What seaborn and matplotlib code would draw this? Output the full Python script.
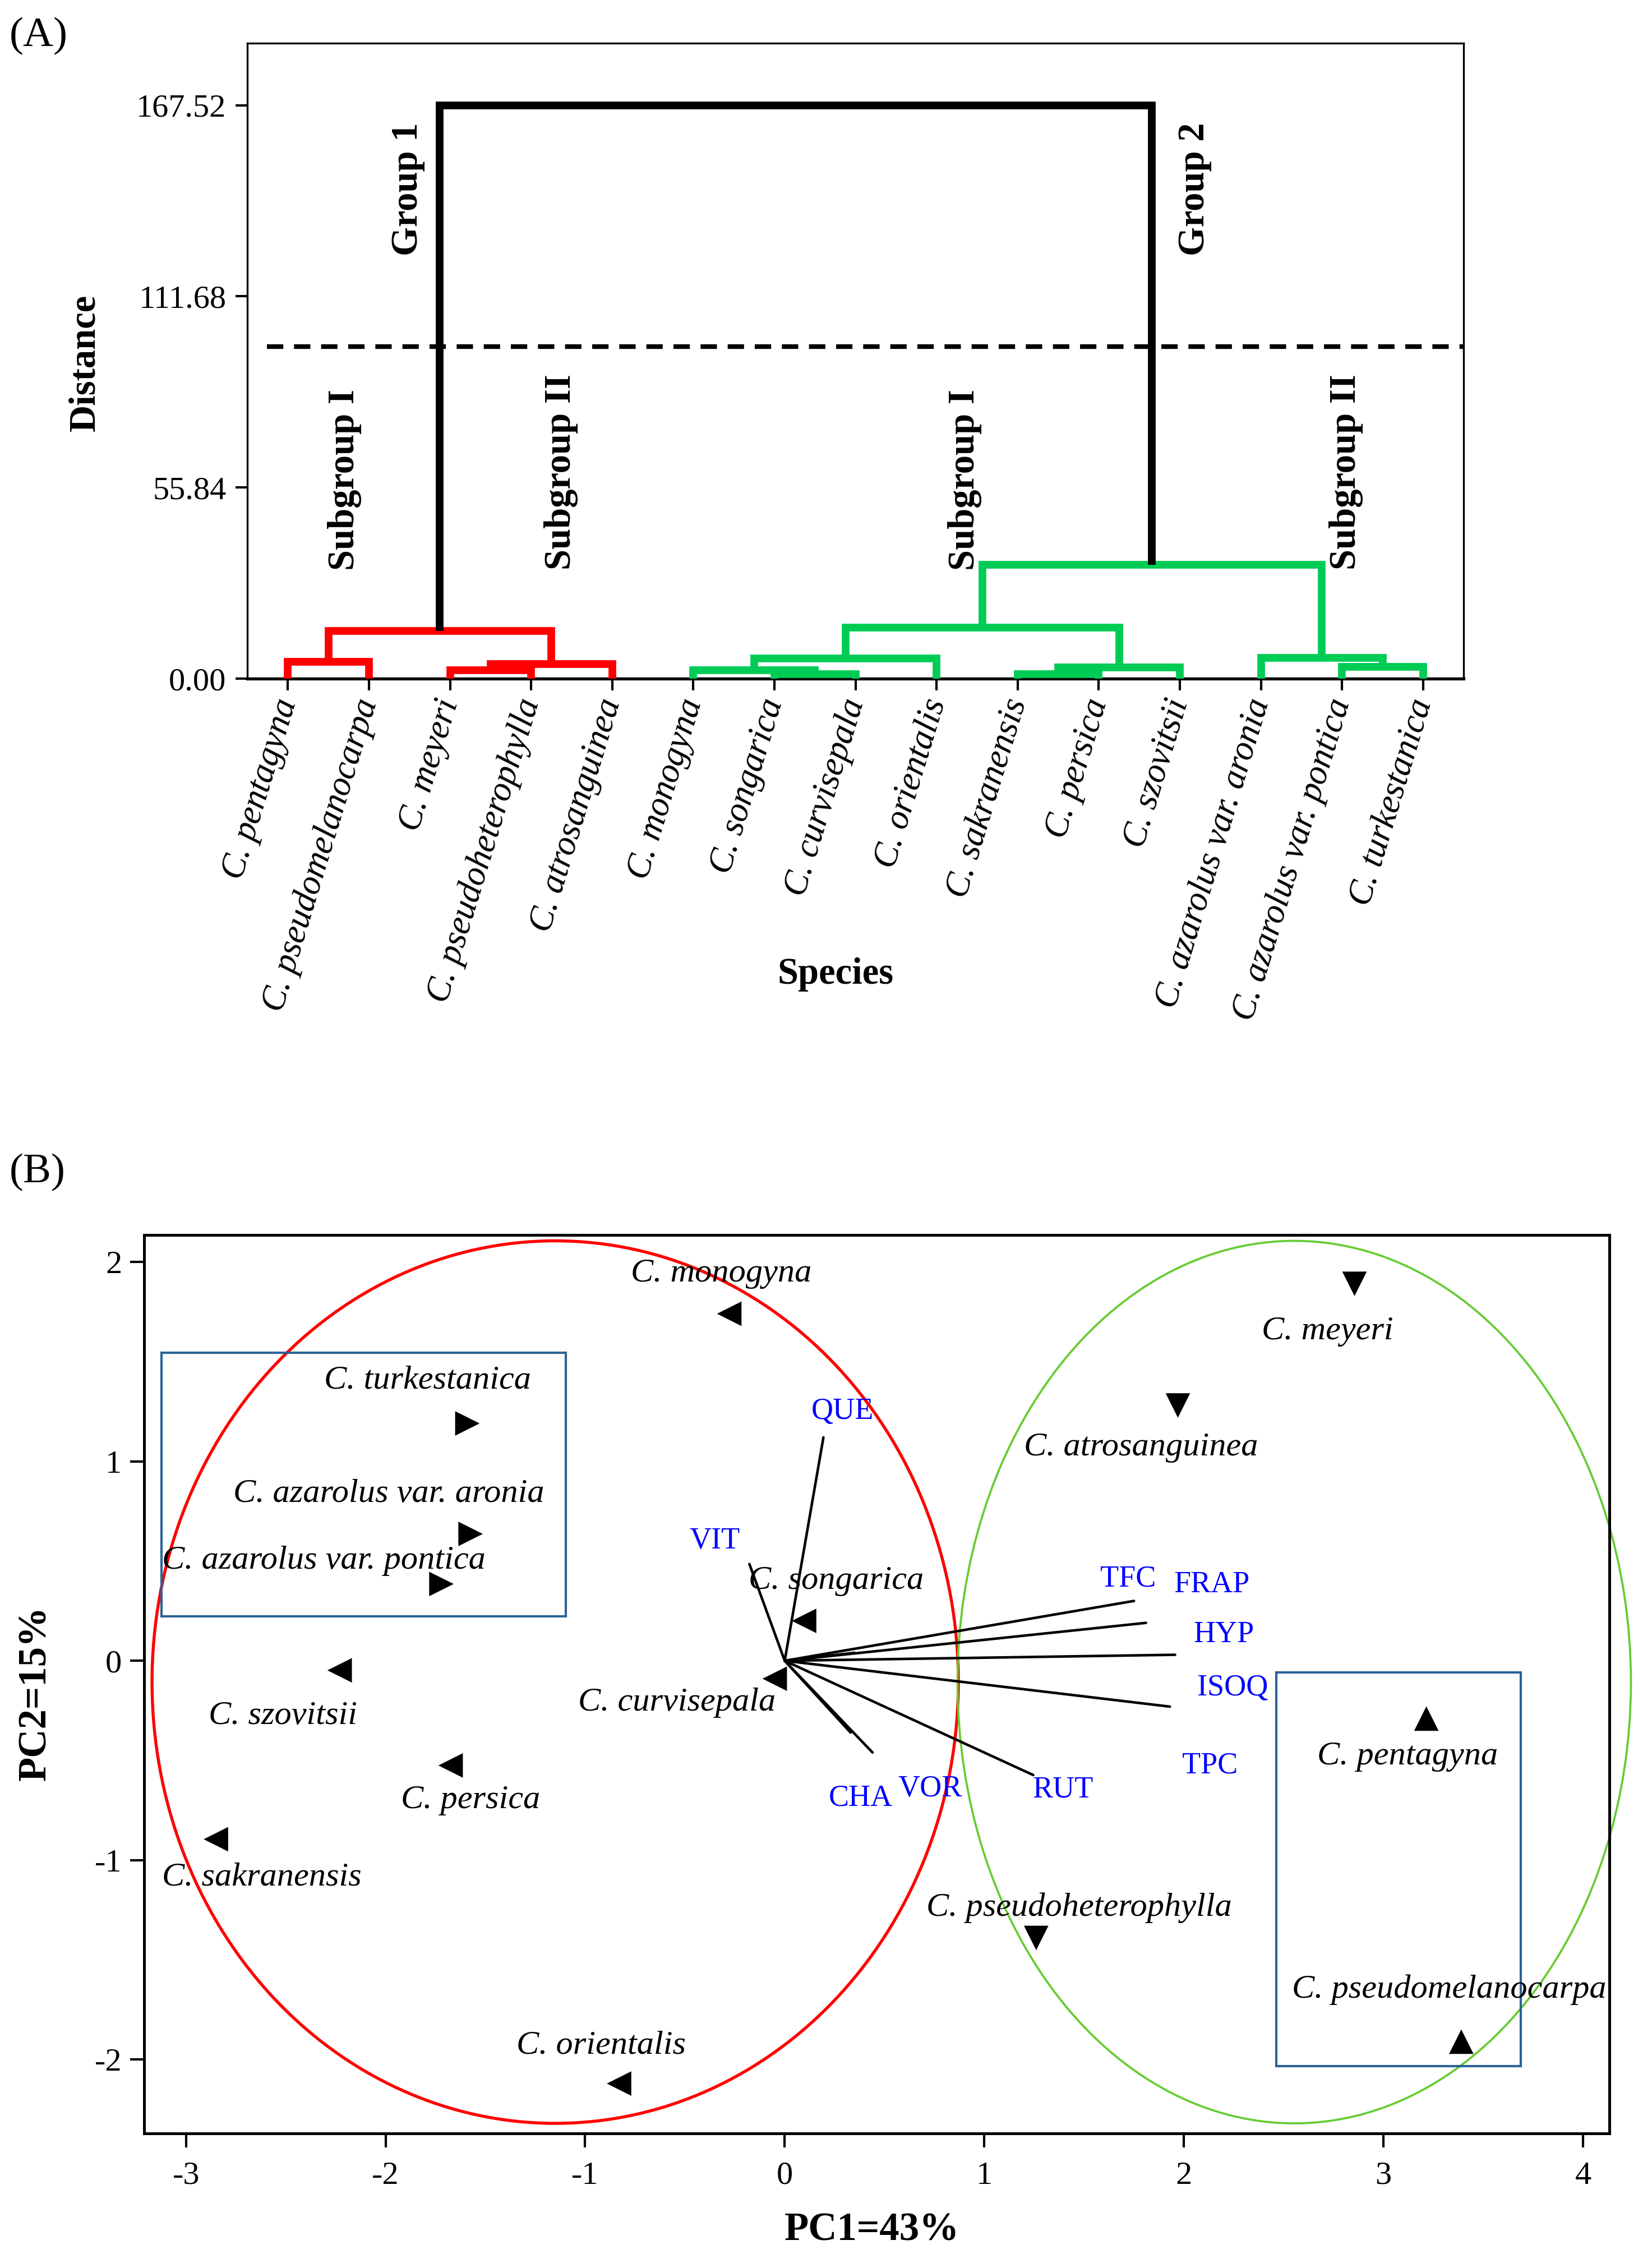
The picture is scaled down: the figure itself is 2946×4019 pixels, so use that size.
import matplotlib
matplotlib.use('Agg')
import pandas as pd
import matplotlib.pyplot as plt
from matplotlib.patches import Ellipse, Rectangle
import seaborn as sns

# ---------------- (A) dendrogram data ----------------
leaf_names = ['C. pentagyna', 'C. pseudomelanocarpa', 'C. meyeri', 'C. pseudoheterophylla',
              'C. atrosanguinea', 'C. monogyna', 'C. songarica', 'C. curvisepala',
              'C. orientalis', 'C. sakranensis', 'C. persica', 'C. szovitsii',
              'C. azarolus var. aronia', 'C. azarolus var. pontica', 'C. turkestanica']
# nodes 0-14 are the leaves, merge k makes node 15+k
merge_left = [0, 2, 16, 15, 6, 5, 20, 9, 22, 21, 13, 12, 24, 18]
merge_right = [1, 3, 4, 17, 7, 19, 8, 10, 11, 23, 14, 25, 26, 27]
merge_height = [4.9, 2.4, 4.2, 14.0, 1.3, 2.5, 5.9, 1.4, 3.3, 15.0, 3.5, 6.0, 33.3, 167.52]
merge_group = ['Group 1'] * 4 + ['Group 2'] * 9 + ['root']
dist_ticks = [0.00, 55.84, 111.68, 167.52]
cut_height = 97.0

# ---------------- (B) PCA data ----------------
pca_species = leaf_names
pc1 = [3.215, 3.39, 2.855, 1.26, 1.97, -0.278, 0.097, -0.05, -0.83, -2.85, -1.674, -2.23,
       -1.574, -1.72, -1.59]
pc2 = [-0.29, -1.91, 1.89, -1.39, 1.28, 1.74, 0.20, -0.09, -2.12, -0.895, -0.525, -0.048,
       0.636, 0.385, 1.19]
pca_cluster = ['G1-I', 'G1-I', 'G1-II', 'G1-II', 'G1-II', 'G2-I', 'G2-I', 'G2-I', 'G2-I',
               'G2-I', 'G2-I', 'G2-I', 'G2-II', 'G2-II', 'G2-II']

var_names = ['QUE', 'VIT', 'TFC', 'FRAP', 'HYP', 'ISOQ', 'TPC', 'CHA', 'VOR', 'RUT']
load1 = [0.194, -0.177, 1.75, 1.81, 1.956, 1.93, 0.35, 0.44, 0.33, 1.245]
load2 = [1.12, 0.485, 0.30, 0.19, 0.03, -0.23, 0.04, -0.46, -0.36, -0.573]

# confidence ellipses of the two groups
ell_x = [-1.15, 2.553]
ell_y = [-0.107, -0.107]
ell_w = [4.04, 3.374]
ell_h = [4.425, 4.425]

# ---------------- layout / styles ----------------
label_offset = {
    'C. pentagyna': (-0.095, -0.19), 'C. pseudomelanocarpa': (-0.06, 0.26),
    'C. meyeri': (-0.135, -0.24), 'C. pseudoheterophylla': (0.215, 0.15),
    'C. atrosanguinea': (-0.185, -0.21), 'C. monogyna': (-0.04, 0.20),
    'C. songarica': (0.16, 0.20), 'C. curvisepala': (-0.49, -0.12),
    'C. orientalis': (-0.09, 0.19), 'C. sakranensis': (0.23, -0.19),
    'C. persica': (0.10, -0.175), 'C. szovitsii': (-0.285, -0.23),
    'C. azarolus var. aronia': (-0.41, 0.20), 'C. azarolus var. pontica': (-0.59, 0.115),
    'C. turkestanica': (-0.20, 0.215),
}
var_label_xy = {
    'QUE': (0.29, 1.25), 'VIT': (-0.35, 0.60), 'TFC': (1.72, 0.41), 'FRAP': (2.14, 0.38),
    'HYP': (2.2, 0.13), 'ISOQ': (2.245, -0.137), 'TPC': (2.13, -0.525),
    'CHA': (0.38, -0.69), 'VOR': (0.728, -0.643), 'RUT': (1.394, -0.647),
}
boxes = [(-3.122, 0.222, 2.025, 1.322), (2.462, -2.033, 1.225, 1.974)]

group_color = {'Group 1': '#FF0000', 'Group 2': '#00CC55', 'root': 'black'}
cluster_marker = {'G1-I': '^', 'G1-II': 'v', 'G2-I': '<', 'G2-II': '>'}
ellipse_color = ['#FF0000', '#66CC33']

sns.set_style('ticks', {'axes.edgecolor': 'black', 'xtick.color': 'black',
                        'ytick.color': 'black', 'text.color': 'black',
                        'axes.labelcolor': 'black'})
plt.rcParams['font.family'] = ['Liberation Serif', 'DejaVu Serif']
plt.rcParams['axes.unicode_minus'] = False

fig = plt.figure(figsize=(2946 / 300, 4019 / 300), dpi=300)

# ======================= (A) =======================
ax1 = fig.add_axes([0.1497, 0.6989, 0.7363, 0.2819])
node_x = {i: float(i) for i in range(len(leaf_names))}
node_y = {i: 0.0 for i in range(len(leaf_names))}
for k, (a, b, h, g) in enumerate(zip(merge_left, merge_right, merge_height, merge_group)):
    xa, xb = node_x[a], node_x[b]
    ax1.plot([xa, xa, xb, xb], [node_y[a], h, h, node_y[b]], color=group_color[g],
             lw=3.3, solid_joinstyle='miter', solid_capstyle='butt', clip_on=False,
             zorder=3 if g != 'root' else 4)
    node = len(leaf_names) + k
    node_x[node] = (xa + xb) / 2
    node_y[node] = h

ax1.axhline(cut_height, xmin=0.016, xmax=1, color='black', lw=2, ls=(0, (3.5, 2.3)), zorder=2)

ax1.set_xlim(-0.5, 14.5)
ax1.set_ylim(0, 185.6)
ax1.set_xticks(range(len(leaf_names)))
ax1.set_xticklabels(leaf_names, rotation=73, ha='right', va='center',
                    rotation_mode='anchor', fontstyle='italic', fontsize=15)
ax1.set_yticks(dist_ticks)
ax1.set_yticklabels([f'{v:.2f}' for v in dist_ticks], fontsize=14)
ax1.tick_params(length=5, width=1, direction='out', pad=4)
for s in ax1.spines.values():
    s.set_linewidth(0.8)
ax1.spines['bottom'].set_linewidth(1.3)

ax1.set_xlabel('Species', fontsize=16, fontweight='bold')
ax1.xaxis.set_label_coords(0.4836, -0.4387)
ax1.set_ylabel('Distance', fontsize=16, fontweight='bold')
ax1.yaxis.set_label_coords(-0.1194, 0.497)

for txt, x, y in [('Group 1', 1.478, 143.0), ('Group 2', 11.18, 143.0),
                  ('Subgroup I', 0.70, 58.1), ('Subgroup II', 3.37, 60.4),
                  ('Subgroup I', 8.35, 58.1), ('Subgroup II', 13.05, 60.4)]:
    ax1.text(x, y, txt, rotation=90, ha='center', va='center', fontsize=16,
             fontweight='bold', zorder=5)

fig.text(17 / 2946, 1 - 64 / 4019, '(A)', ha='left', va='center', fontsize=18)

# ======================= (B) =======================
ax2 = fig.add_axes([0.0872, 0.0535, 0.887, 0.3986])
df = pd.DataFrame({'species': pca_species, 'PC1': pc1, 'PC2': pc2, 'cluster': pca_cluster})
sns.scatterplot(data=df, x='PC1', y='PC2', style='cluster', markers=cluster_marker,
                color='black', s=110, linewidth=0, legend=False, ax=ax2, zorder=5)

for sp, x, y in zip(df['species'], df['PC1'], df['PC2']):
    dx, dy = label_offset[sp]
    ax2.text(x + dx, y + dy, sp, ha='center', va='center', fontstyle='italic',
             fontsize=14.5, zorder=6)

for name, x, y in zip(var_names, load1, load2):
    ax2.plot([0, x], [0, y], color='black', lw=1.1, zorder=3)
    lx, ly = var_label_xy[name]
    ax2.text(lx, ly, name, color='#0000FF', ha='center', va='center', fontsize=13, zorder=6)

for cx, cy, w, h, c in zip(ell_x, ell_y, ell_w, ell_h, ellipse_color):
    ax2.add_patch(Ellipse((cx, cy), w, h, fill=False, ec=c,
                          lw=1.3 if c == '#FF0000' else 0.9, clip_on=False, zorder=2))

for x0, y0, w, h in boxes:
    ax2.add_patch(Rectangle((x0, y0), w, h, fill=False, ec='#2B6396', lw=1.0, zorder=2))

ax2.set_xlim(-3.21, 4.132)
ax2.set_ylim(-2.37, 2.135)
ax2.set_xticks(range(-3, 5))
ax2.set_yticks(range(-2, 3))
ax2.tick_params(labelsize=14, length=6, width=1, direction='out')
ax2.tick_params(axis='x', pad=6)
for s in ax2.spines.values():
    s.set_linewidth(1.2)

ax2.set_xlabel('PC1=43%', fontsize=17, fontweight='bold')
ax2.xaxis.set_label_coords(0.4967, -0.088)
ax2.set_ylabel('PC2=15%', fontsize=17, fontweight='bold')
ax2.yaxis.set_label_coords(-0.0616, 0.49)

fig.text(17 / 2946, 1 - 2090 / 4019, '(B)', ha='left', va='center', fontsize=18)

fig.savefig('out.png', dpi=300)
